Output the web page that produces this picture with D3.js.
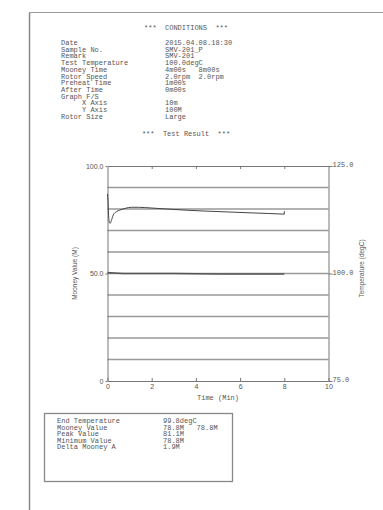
<!DOCTYPE html>
<html><head><meta charset="utf-8">
<script src="https://cdn.jsdelivr.net/npm/d3@7/dist/d3.min.js"></script>
<style>
html,body{margin:0;padding:0;background:#fff;}
svg{display:block;}
text{white-space:pre;}
</style></head>
<body>
<svg id="c" width="383" height="510"></svg>
<script>
// ---- data ----
const condLabels = ["Date","Sample No.","Remark","Test Temperature","Mooney Time","Rotor Speed","Preheat Time","After Time","Graph F/S","     X Axis","     Y Axis","Rotor Size"];
const condValues = ["2015.04.08.18:30","SMV-201_P","SMV-201","100.0degC","4m00s   8m00s","2.0rpm  2.0rpm","1m00s","0m00s","","10m","100M","Large"];
const resultLabels = ["End Temperature","Mooney Value","Peak Value","Minimum Value","Delta Mooney A"];
const resultValues = ["99.8degC","78.8M   78.8M","81.1M","78.8M","1.9M"];
const mooneyTime  = [0, 0.02, 0.05, 0.09, 0.12, 0.17, 0.26, 0.41, 0.56, 0.8, 1.09, 1.4, 1.93, 2.68, 3.65, 4.5, 5.5, 6.5, 7.3, 8.0];
const mooneyValue = [87, 84, 77, 73.6, 73.3, 74.5, 77.2, 78.8, 79.5, 80.3, 80.8, 80.8, 80.5, 80.0, 79.4, 79.0, 78.6, 78.2, 77.9, 77.6];
const endMark = [77.6, 79.0];
const tempTime  = [0, 0.3, 0.7, 1.5, 3, 5, 7, 8];
const tempValue = [100.2, 100.1, 100.0, 100.0, 100.0, 99.9, 99.9, 99.9];
const xTicks = [0, 2, 4, 6, 8, 10];
const yLeftTicks = [0, 50, 100];
const yRightTicks = [75, 100, 125];
const gridValues = [10, 20, 30, 40, 50, 60, 70, 80, 90];

// ---- drawing ----
const svg = d3.select("#c");
const mono = "'Liberation Mono','DejaVu Sans Mono',monospace";
const sans = "'Liberation Sans',Arial,sans-serif";
const ink = "#555";

// page border (scan)
svg.append("line").attr("x1",29.5).attr("x2",383).attr("y1",12.5).attr("y2",12.5).attr("stroke","#999").attr("stroke-width",1);
svg.append("line").attr("x1",29.5).attr("x2",29.5).attr("y1",12.5).attr("y2",510).attr("stroke","#888").attr("stroke-width",1.5);

// conditions header
svg.append("text").attr("x",186).attr("y",30).attr("text-anchor","middle")
  .attr("font-family",mono).attr("font-size",7).attr("fill",ink).text("***  CONDITIONS  ***");
const cond = svg.append("g").attr("font-family",mono).attr("font-size",7).attr("fill",ink);
condLabels.forEach((l,i)=>{
  cond.append("text").attr("x",61).attr("y",45+i*6.7).text(l);
  cond.append("text").attr("x",165).attr("y",45+i*6.7).text(condValues[i]);
});
svg.append("text").attr("x",186).attr("y",136).attr("text-anchor","middle")
  .attr("font-family",mono).attr("font-size",7).attr("fill",ink).text("***  Test Result  ***");

// chart
const x = d3.scaleLinear().domain([0,10]).range([107.5,328.5]);
const yM = d3.scaleLinear().domain([0,100]).range([381,166]);
const yT = d3.scaleLinear().domain([75,125]).range([381,166]);

const g = svg.append("g");
g.selectAll("line.grid").data(gridValues).join("line").attr("class","grid")
  .attr("x1",x(0)).attr("x2",x(10)).attr("y1",d=>yM(d)).attr("y2",d=>yM(d))
  .attr("stroke","#999").attr("stroke-width",1.3);

function styleAxis(sel){
  sel.selectAll("path.domain").attr("stroke","#777");
  sel.selectAll(".tick line").attr("stroke","#777");
  sel.selectAll("text").attr("fill","#555");
}
const axL = g.append("g").attr("transform",`translate(${x(0)},0)`)
  .call(d3.axisLeft(yM).tickValues(yLeftTicks).tickSize(2).tickSizeOuter(0).tickPadding(2)
    .tickFormat(d=>d===0?"0":d3.format(".1f")(d)));
axL.attr("font-family",sans).attr("font-size",7); styleAxis(axL);
const axR = g.append("g").attr("transform",`translate(${x(10)},0)`)
  .call(d3.axisRight(yT).tickValues(yRightTicks).tickSize(4).tickSizeOuter(0).tickPadding(0).tickFormat(d3.format(".1f")));
axR.attr("font-family",mono).attr("font-size",7); styleAxis(axR);
axR.selectAll("text").attr("dy","0.1em");
const axB = g.append("g").attr("transform",`translate(0,${yM(0)})`)
  .call(d3.axisBottom(x).tickValues(xTicks).tickSize(-3).tickSizeOuter(0).tickPadding(3).tickFormat(d3.format("d")));
axB.attr("font-family",sans).attr("font-size",7); styleAxis(axB);
const axT = g.append("g").attr("transform",`translate(0,${yM(100)})`)
  .call(d3.axisTop(x).tickValues(xTicks.slice(1,5)).tickSize(-3).tickSizeOuter(0).tickFormat(""));
styleAxis(axT);

// axis titles
svg.append("text").attr("transform",`translate(77,${(yM(0)+yM(100))/2}) rotate(-90)`)
  .attr("text-anchor","middle").attr("font-family",sans).attr("font-size",6.5).attr("fill",ink).text("Mooney Value (M)");
svg.append("text").attr("transform",`translate(364,${(yM(0)+yM(100))/2-5}) rotate(-90)`)
  .attr("text-anchor","middle").attr("font-family",sans).attr("font-size",6.5).attr("fill",ink).text("Temperature (degC)");
svg.append("text").attr("x",(x(0)+x(10))/2).attr("y",400).attr("text-anchor","middle")
  .attr("font-family",mono).attr("font-size",7).attr("fill",ink).text("Time (Min)");

// temperature line
const tempData = tempTime.map((t,i)=>[t,tempValue[i]]);
g.append("path").datum(tempData).attr("fill","none").attr("stroke","#555").attr("stroke-width",1.6)
  .attr("d",d3.line().x(d=>x(d[0])).y(d=>yT(d[1])));

// mooney curve
const mData = mooneyTime.map((t,i)=>[t,mooneyValue[i]]);
g.append("path").datum(mData).attr("fill","none").attr("stroke","#444").attr("stroke-width",1)
  .attr("d",d3.line().x(d=>x(d[0])).y(d=>yM(d[1])).curve(d3.curveMonotoneX));
g.append("line").attr("x1",x(8)).attr("x2",x(8)).attr("y1",yM(endMark[0])).attr("y2",yM(endMark[1]))
  .attr("stroke","#444").attr("stroke-width",1);

// results box
svg.append("rect").attr("x",44.5).attr("y",413.5).attr("width",188).attr("height",68)
  .attr("fill","none").attr("stroke","#888").attr("stroke-width",1.3);
const res = svg.append("g").attr("font-family",mono).attr("font-size",7).attr("fill",ink);
resultLabels.forEach((l,i)=>{
  res.append("text").attr("x",57).attr("y",423+i*6.6).text(l);
  res.append("text").attr("x",163).attr("y",423+i*6.6).text(resultValues[i]);
});
</script>
</body></html>
